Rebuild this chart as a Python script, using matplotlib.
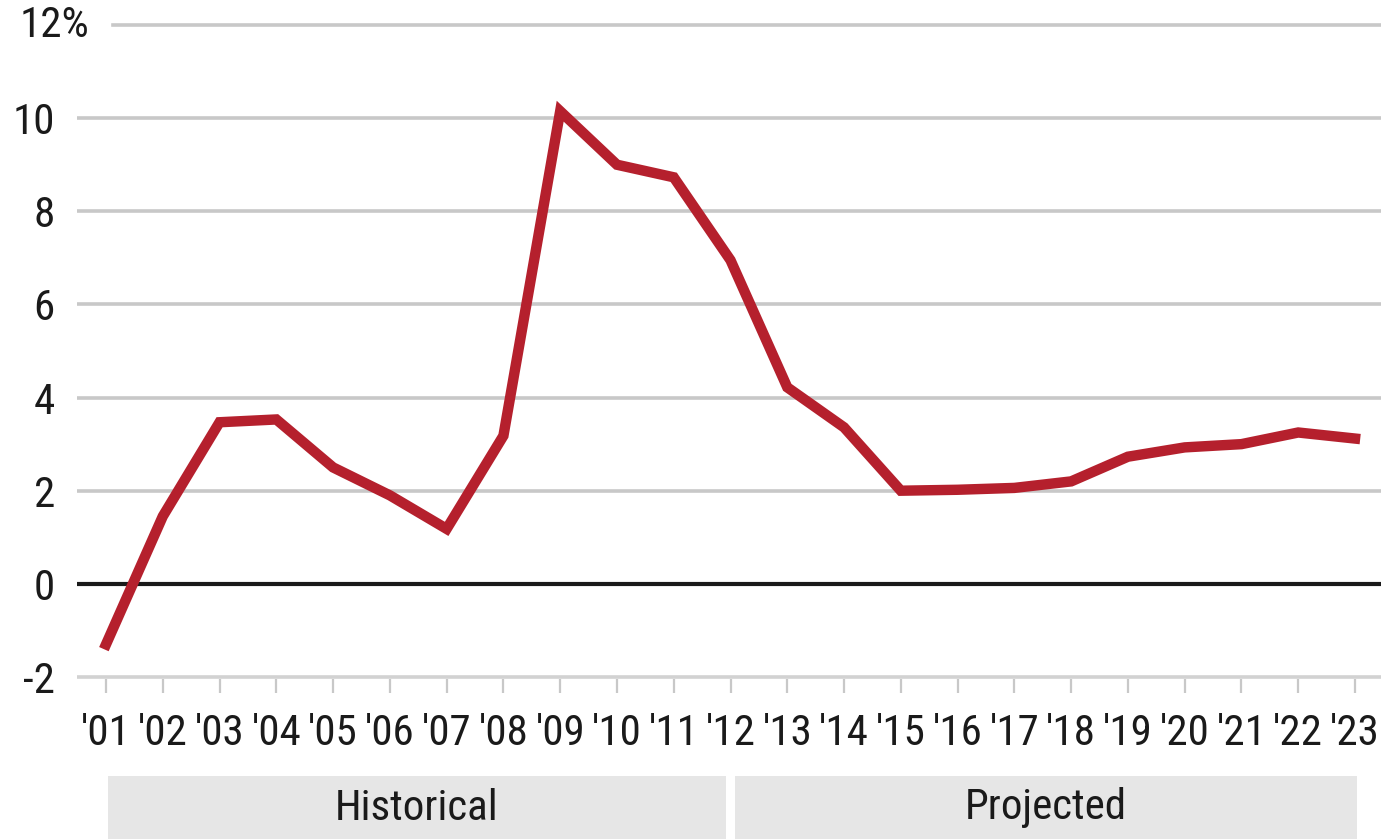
import matplotlib
matplotlib.use("Agg")
import matplotlib.pyplot as plt
from matplotlib.patches import Rectangle
from matplotlib.transforms import blended_transform_factory
from matplotlib import font_manager

years = ["'01", "'02", "'03", "'04", "'05", "'06", "'07", "'08", "'09", "'10", "'11", "'12",
         "'13", "'14", "'15", "'16", "'17", "'18", "'19", "'20", "'21", "'22", "'23"]
values = [-1.3, 1.45, 3.47, 3.53, 2.5, 1.9, 1.18, 3.18, 10.15, 9.0, 8.73, 6.95,
          4.22, 3.36, 2.0, 2.02, 2.06, 2.2, 2.73, 2.93, 3.0, 3.25, 3.12]
yticks = [-2, 0, 2, 4, 6, 8, 10, 12]
ytick_labels = ["-2", "0", "2", "4", "6", "8", "10", "12%"]
periods = ["Historical", "Projected"]
period_spans = [(0, 11), (11, 22)]

avail = {f.name for f in font_manager.fontManager.ttflist}
fam = [f for f in ["Liberation Sans Narrow", "Roboto Condensed", "Open Sans Condensed", "DejaVu Sans Condensed", "DejaVu Sans"] if f in avail]
plt.rcParams['font.family'] = fam

W, H = 1385, 839
fig = plt.figure(figsize=(W / 100, H / 100), dpi=100)
left_px, right_px = 77, 1381
top_px, bot_px = 22.7, 679.3
ax = fig.add_axes([left_px / W, 1 - bot_px / H, (right_px - left_px) / W, (bot_px - top_px) / H])

x = list(range(len(years)))
ax.set_xlim(-0.511, 22.458)
ax.set_ylim(-2.05, 12.05)

for s in ax.spines.values():
    s.set_visible(False)

for yv in yticks:
    if yv == 0:
        ax.axhline(yv, color="#1a1a1a", lw=3, zorder=2)
    elif yv == 12:
        ax.axhline(yv, xmin=(113 - left_px) / (right_px - left_px), color="#c8c8c8", lw=2.6, zorder=1)
    elif yv == -2:
        ax.axhline(yv, color="#d2d2d2", lw=2.6, zorder=1)
    else:
        ax.axhline(yv, color="#c8c8c8", lw=2.6, zorder=1)

ax.plot(x, values, color="#b5202d", lw=7.5, solid_joinstyle="miter", zorder=3)

ax.set_yticks(yticks)
ax.set_yticklabels([lab if not lab.endswith("%") else "" for lab in ytick_labels])
ax.tick_params(axis="y", length=0, pad=16, labelsize=31, labelcolor="#1a1a1a")
ytr = blended_transform_factory(fig.transFigure, ax.transData)
for yv, lab in zip(yticks, ytick_labels):
    if lab.endswith("%"):
        ax.text(20 / W, yv, lab, transform=ytr, ha="left", va="center",
                fontsize=31, color="#1a1a1a")

ax.set_xticks(x)
ax.set_xticklabels(years)
ax.tick_params(axis="x", length=10, width=1.6, color="#c8c8c8", pad=14, labelsize=31, labelcolor="#1a1a1a")

tr = blended_transform_factory(ax.transData, fig.transFigure)
gap = 0.08
for i, (name, (a, b)) in enumerate(zip(periods, period_spans)):
    x0 = a + (gap if i > 0 else 0.03)
    x1 = b - (gap if i == 0 else -0.03)
    rect = Rectangle((x0, 0), x1 - x0, 1 - 776 / H, transform=tr, facecolor="#e6e6e6",
                     edgecolor="none", clip_on=False)
    fig.add_artist(rect)
    fig.text((x0 + x1) / 2, 1 - 808 / H, name, transform=tr, ha="center", va="center",
             fontsize=31, color="#1a1a1a")

fig.savefig("out.png", dpi=100)
